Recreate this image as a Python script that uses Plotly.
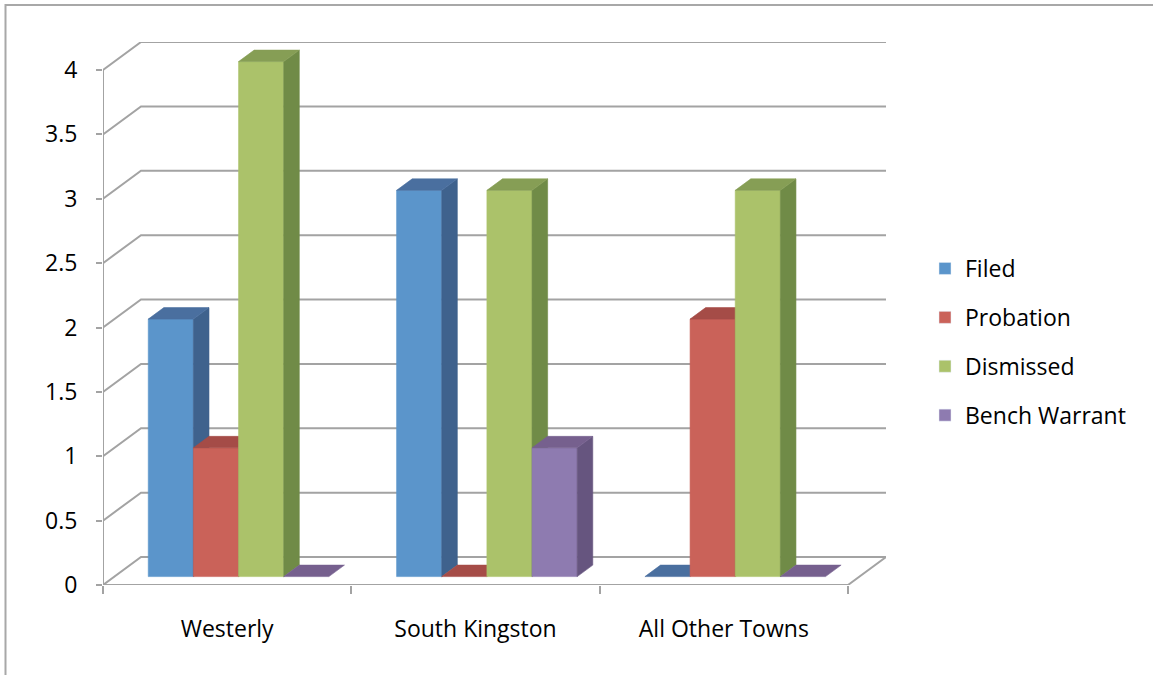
import plotly.graph_objects as go

# ---------------- data ----------------
categories = ["Westerly", "South Kingston", "All Other Towns"]
series_names = ["Filed", "Probation", "Dismissed", "Bench Warrant"]
filed = [2, 3, 0]
probation = [1, 0, 2]
dismissed = [4, 3, 3]
bench_warrant = [0, 1, 0]
y_tick_values = [0, 0.5, 1, 1.5, 2, 2.5, 3, 3.5, 4]
y_tick_labels = ["0", "0.5", "1", "1.5", "2", "2.5", "3", "3.5", "4"]

series_values = [filed, probation, dismissed, bench_warrant]

# ---------------- styles ----------------
front_colors = ["#5B95CB", "#CA6259", "#ABC26A", "#8E7BB0"]
side_colors = ["#3F628D", "#A04B45", "#708B47", "#66557F"]
top_colors = ["#4A6F9F", "#A54C47", "#869E55", "#76608E"]
GRID = "#A3A3A3"
FONT = "Open Sans"

W, H = 1153, 675
ML, MR, MT, MB = 103, 267, 42, 90
PX_X = 248.33   # px per category unit
PX_Y = 128.75   # px per value unit
DXU = 38 / PX_X  # wall depth in data units
DYU = 28 / PX_Y
T0, T1 = 0.30, 0.71  # bar depth span (fraction of wall depth)
BW = 1 / 5.5         # bar width (gap width 150%)

n_cat = len(categories)


def shift(x, y, t):
    return x + t * DXU, y + t * DYU


fig = go.Figure()

# ---- walls / gridlines ----
gx, gy = [], []
for v in y_tick_values:
    for (x, y) in [(-0.5, v), shift(-0.5, v, 1), shift(n_cat - 0.5, v, 1)]:
        gx.append(x)
        gy.append(y)
    gx.append(None)
    gy.append(None)
# floor front edge + right edge, and vertical axis
for pts in [[(-0.5, 0), (n_cat - 0.5, 0), shift(n_cat - 0.5, 0, 1)],
            [(-0.5, 0), (-0.5, y_tick_values[-1])]]:
    for (x, y) in pts:
        gx.append(x)
        gy.append(y)
    gx.append(None)
    gy.append(None)
fig.add_trace(go.Scatter(x=gx, y=gy, mode="lines", line=dict(color=GRID, width=2),
                         hoverinfo="skip", showlegend=False))


def poly(pts, color):
    xs = [p[0] for p in pts] + [pts[0][0]]
    ys = [p[1] for p in pts] + [pts[0][1]]
    fig.add_trace(go.Scatter(x=xs, y=ys, mode="lines", fill="toself", fillcolor=color,
                             line=dict(color=color, width=0.6), hoverinfo="skip",
                             showlegend=False))


# ---- 3D bars (left to right for correct overlap) ----
for c in range(n_cat):
    for i, vals in enumerate(series_values):
        v = vals[c]
        L = c - 0.5 + 0.75 * BW + i * BW
        R = L + BW
        if v > 0:
            poly([shift(L, 0, T0), shift(R, 0, T0), shift(R, v, T0), shift(L, v, T0)], front_colors[i])
            poly([shift(R, 0, T0), shift(R, 0, T1), shift(R, v, T1), shift(R, v, T0)], side_colors[i])
        poly([shift(L, v, T0), shift(R, v, T0), shift(R, v, T1), shift(L, v, T1)], top_colors[i])

# ---- legend entries ----
for i, name in enumerate(series_names):
    fig.add_trace(go.Bar(x=[None], y=[None], name=name, marker_color=front_colors[i],
                         legendgroup=name, hoverinfo="skip"))

# outer border
fig.add_shape(type="rect", xref="paper", yref="paper",
              x0=(5.5 - ML) / (W - ML - MR), x1=(W + 20 - ML) / (W - ML - MR),
              y0=(H - MB - (H + 20)) / (H - MT - MB), y1=(H - MB - 5) / (H - MT - MB),
              line=dict(color="#A8A8A8", width=2), layer="below")

fig.update_layout(
    width=W, height=H,
    margin=dict(l=ML, r=MR, t=MT, b=MB, autoexpand=False),
    paper_bgcolor="white", plot_bgcolor="white",
    font=dict(family=FONT, size=23, color="black"),
    showlegend=True,
    legend=dict(x=(925 - ML) / (W - ML - MR), y=(H - MB - 342) / (H - MT - MB),
                xanchor="left", yanchor="middle", tracegroupgap=16,
                font=dict(family=FONT, size=23, color="black"),
                bgcolor="rgba(0,0,0,0)"),
    xaxis=dict(range=[-0.5, n_cat - 0.5 + DXU], showgrid=False, zeroline=False,
               showline=False, tickmode="array", tickvals=list(range(n_cat)),
               ticktext=categories, ticks="", ticklabelstandoff=28,
               minor=dict(tickmode="array", tickvals=[k - 0.5 for k in range(n_cat + 1)],
                          ticks="outside", ticklen=8, tickwidth=2, tickcolor=GRID,
                          showgrid=False),
               fixedrange=True),
    yaxis=dict(range=[0, y_tick_values[-1] + DYU], showgrid=False, zeroline=False,
               showline=False, tickmode="array", tickvals=y_tick_values,
               ticktext=y_tick_labels, ticks="outside", ticklen=6, tickwidth=2,
               tickcolor=GRID, ticklabelstandoff=14, fixedrange=True),
    bargap=0,
)

fig.write_html("out.html")
